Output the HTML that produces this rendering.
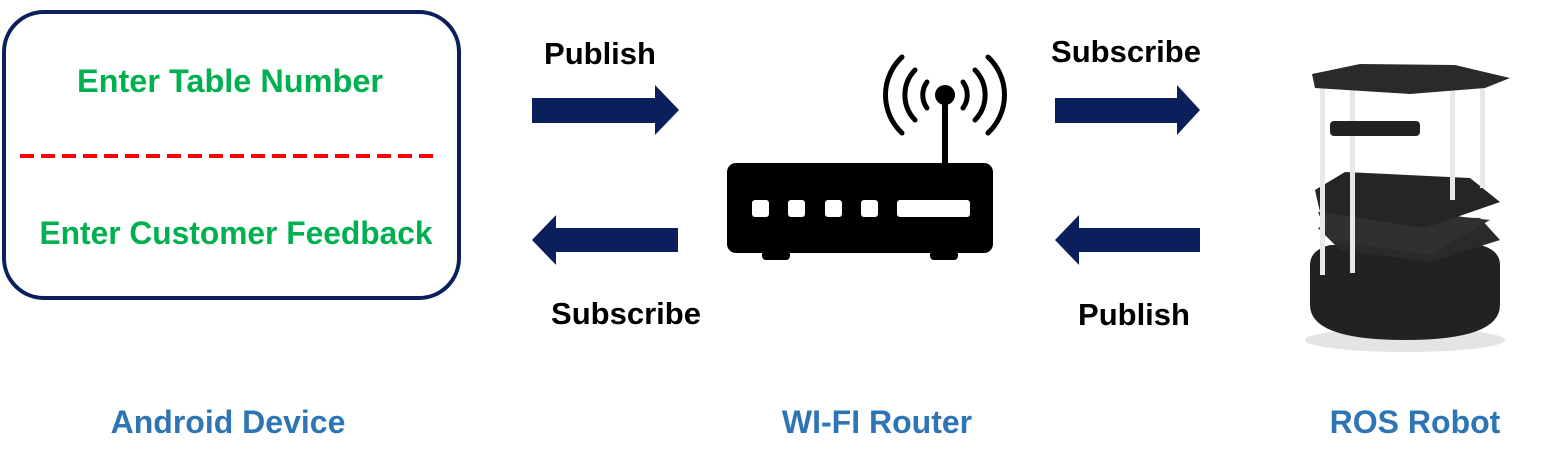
<!DOCTYPE html>
<html><head><style>
body{margin:0;width:1551px;height:467px;background:#fff;overflow:hidden;font-family:"Liberation Sans",sans-serif;}
svg{position:absolute;left:0;top:0}
</style></head><body>
<svg width="1551" height="467" viewBox="0 0 1551 467">
<rect x="4" y="12" width="455" height="286" rx="40" fill="#fff" stroke="#0b1f5c" stroke-width="4"/>
<line x1="20" y1="156" x2="440" y2="156" stroke="#ff0000" stroke-width="4" stroke-dasharray="14,7"/>
<g font-weight="bold" font-size="32" fill="#00b050" text-anchor="middle">
<text x="230" y="92" textLength="306" lengthAdjust="spacingAndGlyphs">Enter Table Number</text>
<text x="236" y="244" textLength="393" lengthAdjust="spacingAndGlyphs">Enter Customer Feedback</text>
</g>
<g fill="#0b1f5c">
<polygon points="532,98 655,98 655,85 679,110 655,135 655,123 532,123"/>
<polygon points="1055,98 1177,98 1177,85 1200,110 1177,135 1177,123 1055,123"/>
<polygon points="678,228 556,228 556,215 532,240 556,265 556,252 678,252"/>
<polygon points="1200,228 1079,228 1079,215 1055,240 1079,265 1079,252 1200,252"/>
</g>
<g font-weight="bold" font-size="31" fill="#000" text-anchor="middle">
<text x="600" y="64">Publish</text>
<text x="1126" y="62">Subscribe</text>
<text x="626" y="324">Subscribe</text>
<text x="1134" y="325">Publish</text>
</g>
<g font-weight="bold" font-size="32" fill="#2e75b6" text-anchor="middle">
<text x="228" y="433">Android Device</text>
<text x="877" y="433">WI-FI Router</text>
<text x="1415" y="433">ROS Robot</text>
</g>
<!-- router -->
<g fill="#000">
<rect x="727" y="163" width="266" height="90" rx="9"/>
<rect x="762" y="248" width="28" height="12" rx="4"/>
<rect x="930" y="248" width="28" height="12" rx="4"/>
<rect x="942" y="95" width="6" height="70"/>
<circle cx="945" cy="95" r="10"/>
</g>
<g fill="#fff">
<rect x="752" y="200" width="17" height="17" rx="3"/>
<rect x="788" y="200" width="17" height="17" rx="3"/>
<rect x="825" y="200" width="17" height="17" rx="3"/>
<rect x="861" y="200" width="17" height="17" rx="3"/>
<rect x="897" y="200" width="73" height="17" rx="3"/>
</g>
<g fill="none" stroke="#000" stroke-width="5" stroke-linecap="round">
<path d="M927,82 A22,22 0 0 0 927,108"/>
<path d="M915,70 A36,36 0 0 0 915,120"/>
<path d="M902,57 A52,52 0 0 0 902,133"/>
<path d="M963,82 A22,22 0 0 1 963,108"/>
<path d="M975,70 A36,36 0 0 1 975,120"/>
<path d="M988,57 A52,52 0 0 1 988,133"/>
</g>
<!-- robot -->
<ellipse cx="1405" cy="340" rx="100" ry="12" fill="#e4e4e4"/>
<path d="M1310,265 Q1310,250 1330,245 L1480,245 Q1500,250 1500,265 L1500,305 Q1500,340 1405,340 Q1310,340 1310,305 Z" fill="#222"/>
<polygon points="1318,228 1345,215 1480,218 1500,240 1430,262 1340,250" fill="#2a2a2a"/>
<polygon points="1318,212 1420,212 1490,220 1430,255 1330,240" fill="#303030"/>
<polygon points="1315,190 1345,172 1470,178 1500,202 1425,228 1320,212" fill="#252525"/>
<g fill="#e8e8e8">
<rect x="1320" y="85" width="5" height="190"/>
<rect x="1350" y="88" width="5" height="185"/>
<rect x="1450" y="90" width="5" height="110"/>
<rect x="1480" y="88" width="5" height="100"/>
</g>
<rect x="1330" y="121" width="90" height="15" rx="4" fill="#222"/>
<polygon points="1312,74 1360,64 1455,65 1510,78 1485,88 1410,94 1315,88" fill="#2a2a2a"/>
</svg>
</body></html>
